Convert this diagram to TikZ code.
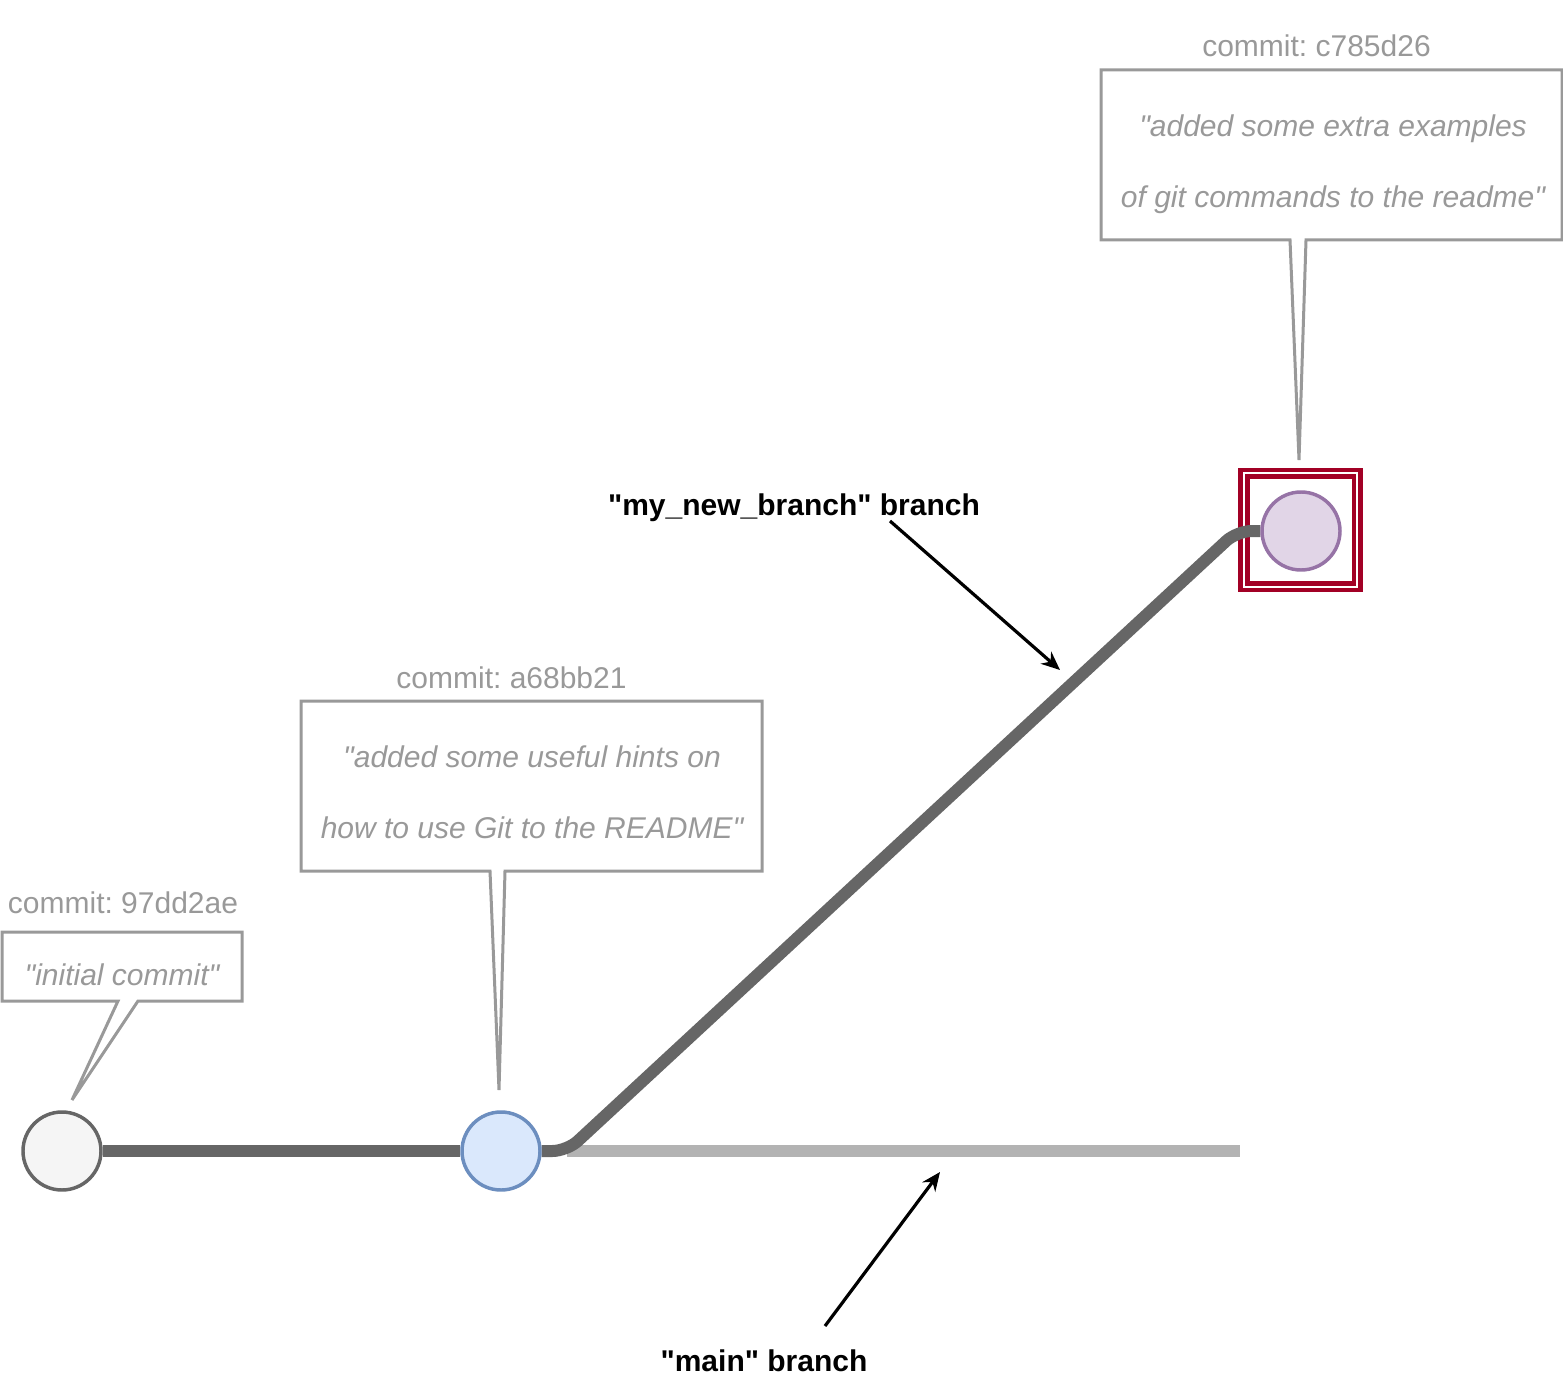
\documentclass[tikz,border=0pt]{standalone}
\usepackage{fontspec}
\setmainfont{Liberation Sans}[Ligatures=TeXOff]
\usetikzlibrary{arrows.meta,backgrounds}
\frenchspacing
\definecolor{lineDark}{HTML}{666666}
\definecolor{lineLight}{HTML}{B3B3B3}
\definecolor{calloutGray}{HTML}{999999}
\definecolor{grayFill}{HTML}{F5F5F5}
\definecolor{grayStroke}{HTML}{666666}
\definecolor{blueFill}{HTML}{DAE8FC}
\definecolor{blueStroke}{HTML}{6C8EBF}
\definecolor{purpleFill}{HTML}{E1D5E7}
\definecolor{purpleStroke}{HTML}{9673A6}
\definecolor{headRed}{HTML}{A20025}
\begin{document}
\begin{tikzpicture}[x=0.75pt,y=-0.75pt,
  commitdot/.style={circle,minimum size=58.5pt,inner sep=0pt,line width=2.6pt},
  headbox/.style={draw=headRed,double=white,double distance=1.3pt,line width=3.6pt,minimum size=85pt,inner sep=0pt},
  darkline/.style={draw=lineDark,line width=9pt,rounded corners=11pt},
  lightline/.style={draw=lineLight,line width=9pt},
  callout/.style={draw=calloutGray,fill=white,line width=2.25pt,line join=miter},
  hashtext/.style={text=calloutGray,font=\fontsize{22.5}{27}\selectfont\frenchspacing,inner sep=0pt},
  msgtext/.style={text=calloutGray,font=\fontsize{22.5}{53.25}\selectfont\itshape,align=center,inner sep=0pt},
  branchlabel/.style={font=\fontsize{22.5}{27}\selectfont\bfseries,inner sep=0pt},
  pointer/.style={draw=black,line width=2.4pt,-{Stealth[length=14pt,width=12pt]}}
]
\useasboundingbox (0,0) rectangle (1563,1387);

% commits
\node[commitdot,draw=grayStroke,fill=grayFill] (c1) at (62,1151) {};
\node[commitdot,draw=blueStroke,fill=blueFill] (c2) at (501,1151) {};
\node[commitdot,draw=purpleStroke,fill=purpleFill] (c3) at (1301,531) {};

\coordinate (fork) at (567,1151);
\coordinate (bend) at (1237,531);
\coordinate (mainend) at (1240,1151);

\begin{scope}[on background layer]
  \node[headbox] (head) at (1300.5,530) {};
  \draw[lightline] (fork) -- (mainend);
  \draw[darkline] (c1) -- (c2);
  \draw[darkline] (c2) -- (fork) -- (bend) -- (c3);
\end{scope}

% callout 1
\draw[callout] (2,932) -- (242,932) -- (242,1001) -- (138,1001) -- (72,1100) -- (118,1001) -- (2,1001) -- cycle;
\node[hashtext,anchor=base] (h1) at (123,913) {commit: 97dd2ae};
\node[msgtext,anchor=base] (m1) at (122,985) {"initial commit"};

% callout 2
\draw[callout] (301,701) -- (762,701) -- (762,871) -- (505,871) -- (499,1090) -- (490,871) -- (301,871) -- cycle;
\node[hashtext,anchor=base] (h2) at (511.5,688) {commit: a68bb21};
\node[msgtext] (m2) at (532,792) {"added some useful hints on\\how to use Git to the README"};

% callout 3
\draw[callout] (1101,70) -- (1562,70) -- (1562,240) -- (1306,240) -- (1299,460) -- (1290,240) -- (1101,240) -- cycle;
\node[hashtext,anchor=base] (h3) at (1316.5,57) {commit: c785d26};
\node[msgtext] (m3) at (1333,164) {"added some extra examples\\of git commands to the readme"};

% branch labels
\node[branchlabel,anchor=base] (lbranch) at (794,515) {"my\_new\_branch" branch};
\node[branchlabel,anchor=base] (lmain) at (764,1371) {"main" branch};

\coordinate (p1s) at (890,521);
\coordinate (p1e) at (1060,670);
\coordinate (p2s) at (825,1326);
\coordinate (p2e) at (940,1172);
\draw[pointer] (p1s) -- (p1e);
\draw[pointer] (p2s) -- (p2e);
\end{tikzpicture}
\end{document}
